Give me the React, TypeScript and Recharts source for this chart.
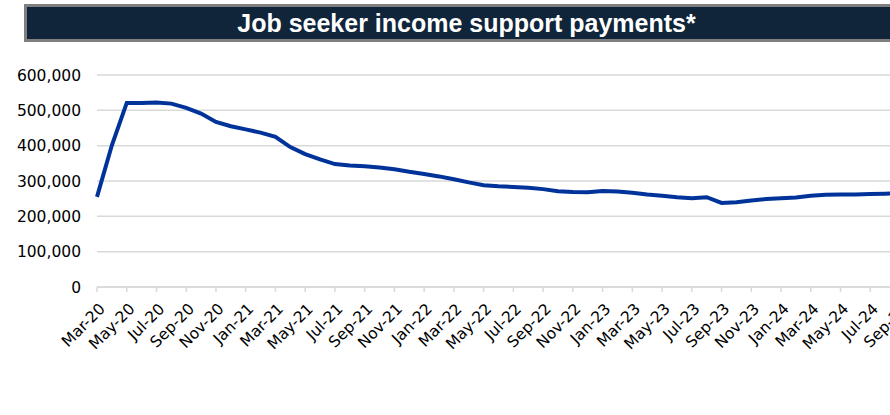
import { LineChart, Line, XAxis, YAxis, CartesianGrid } from 'recharts'

// monthly, Mar-20 .. Sep-24
const months = [
  'Mar-20', 'Apr-20', 'May-20', 'Jun-20', 'Jul-20', 'Aug-20', 'Sep-20', 'Oct-20', 'Nov-20', 'Dec-20',
  'Jan-21', 'Feb-21', 'Mar-21', 'Apr-21', 'May-21', 'Jun-21', 'Jul-21', 'Aug-21', 'Sep-21', 'Oct-21', 'Nov-21', 'Dec-21',
  'Jan-22', 'Feb-22', 'Mar-22', 'Apr-22', 'May-22', 'Jun-22', 'Jul-22', 'Aug-22', 'Sep-22', 'Oct-22', 'Nov-22', 'Dec-22',
  'Jan-23', 'Feb-23', 'Mar-23', 'Apr-23', 'May-23', 'Jun-23', 'Jul-23', 'Aug-23', 'Sep-23', 'Oct-23', 'Nov-23', 'Dec-23',
  'Jan-24', 'Feb-24', 'Mar-24', 'Apr-24', 'May-24', 'Jun-24', 'Jul-24', 'Aug-24', 'Sep-24',
]

const payments = [
  255000, 401000, 521000, 521000, 522000, 519000, 507000, 491000, 467000, 455000,
  446000, 437000, 425000, 396000, 376000, 361000, 348000, 344000, 342000, 338000, 333000, 326000,
  320000, 313000, 305000, 296000, 288000, 285000, 283000, 281000, 277000, 271000, 269000, 268000,
  272000, 270000, 267000, 262000, 258000, 254000, 251000, 254000, 238000, 240000, 245000, 249000,
  251000, 253000, 258000, 261000, 262000, 262000, 263000, 264000, 265000,
]

const yTicks = [0, 100000, 200000, 300000, 400000, 500000, 600000]

const data = months.map((m, i) => ({ month: m, value: payments[i] }))

const font = '"DejaVu Sans", sans-serif'

function MonthTick({ x, y, payload }: any) {
  const ax = x + 1
  const ay = y + 8
  return (
    <text
      x={ax}
      y={ay}
      dy="0.72em"
      textAnchor="end"
      transform={`rotate(-45 ${ax} ${ay})`}
      fontSize={15.5}
      fontFamily={font}
      fill="#000"
    >
      {payload.value}
    </text>
  )
}

export default function App() {
  return (
    <div
      style={{
        position: 'absolute',
        left: 0,
        top: 0,
        width: 890,
        height: 415,
        overflow: 'hidden',
        background: '#fff',
      }}
    >
      <div
        style={{
          position: 'absolute',
          left: 24,
          top: 4,
          width: 882,
          height: 38,
          boxSizing: 'border-box',
          borderTop: '3px solid #7f7f7f',
          borderLeft: '3px solid #7f7f7f',
          borderBottom: '3px solid #7f7f7f',
          background: '#10253a',
          color: '#fff',
          fontFamily: '"Liberation Sans", Arial, sans-serif',
          fontWeight: 'bold',
          fontSize: 25,
          lineHeight: '32px',
          textAlign: 'center',
        }}
      >
        Job seeker income support payments*
      </div>
      <div style={{ position: 'absolute', left: 0, top: 0 }}>
        <LineChart
          width={920}
          height={415}
          data={data}
          margin={{ top: 75, right: 20, bottom: 0, left: 0 }}
        >
          <CartesianGrid vertical={false} stroke="#d9d9d9" strokeWidth={1.5} />
          <XAxis
            dataKey="month"
            interval={1}
            height={128}
            stroke="#d9d9d9"
            strokeWidth={1.5}
            tickSize={5}
            tick={<MonthTick />}
          />
          <YAxis
            width={97}
            domain={[0, 600000]}
            ticks={yTicks}
            axisLine={false}
            tickLine={false}
            tickMargin={16}
            tickSize={0}
            tickFormatter={(v: number) => v.toLocaleString('en-US')}
            tick={{ fontSize: 15.5, fontFamily: font, fill: '#000' }}
          />
          <Line
            type="linear"
            dataKey="value"
            stroke="#003399"
            strokeWidth={4}
            dot={false}
            isAnimationActive={false}
          />
        </LineChart>
      </div>
    </div>
  )
}
